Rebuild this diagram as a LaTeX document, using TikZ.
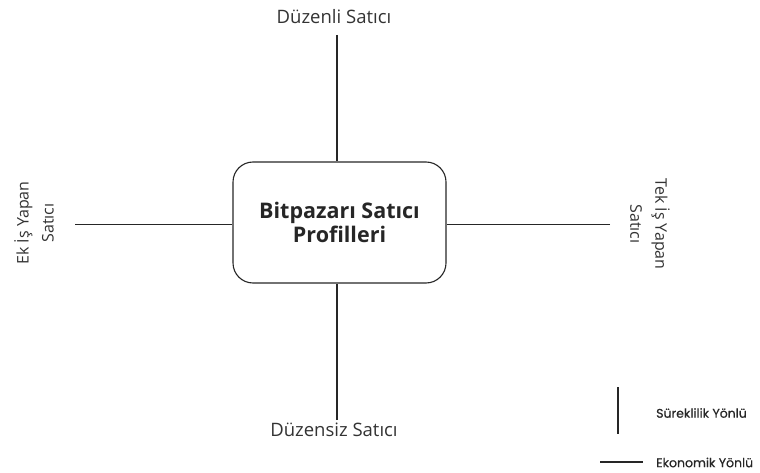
\documentclass[tikz,border=0pt]{standalone}
\usepackage{fontspec}
\setmainfont{Open Sans}
\newfontfamily\legendfont[FakeBold=0.6]{Poppins}
\begin{document}
\begin{tikzpicture}[x=1pt,y=-1pt,
  ln/.style={line width=1.1pt,black!85},
  lbl/.style={font=\fontsize{18.5}{25}\selectfont,text=black!80,align=center,inner sep=0pt},
  leg/.style={font=\legendfont\fontsize{12.5}{14}\selectfont,text=black!85,inner sep=0pt,anchor=west}]
\useasboundingbox (0,0) rectangle (760,473);
\node[draw,ln,rounded corners=20pt,minimum width=213pt,minimum height=121pt,
  font=\bfseries\fontsize{21.5}{24.5}\selectfont,align=center] (c) at (339.5,222.5) {Bitpazarı Satıcı\\Profilleri};
\node[lbl] (t) at (334,17) {Düzenli Satıcı};
\node[lbl] (b) at (334,430) {Düzensiz Satıcı};
\node[lbl,rotate=90,font=\fontsize{16}{25}\selectfont] (l) at (34,223) {Ek İş Yapan\\Satıcı};
\node[lbl,rotate=-90,font=\fontsize{16}{25}\selectfont] (r) at (650,224) {Tek İş Yapan\\Satıcı};
\coordinate (tl) at (337,35);
\coordinate (bl) at (337,420);
\coordinate (ll) at (75,224.5);
\coordinate (rl) at (610,224.5);
\draw[ln] (tl) -- (c.north -| tl);
\draw[ln] (bl) -- (c.south -| bl);
\draw[ln] (ll) -- (c.west |- ll);
\draw[ln] (rl) -- (c.east |- rl);
% legend
\coordinate (s1) at (618,387);
\coordinate (s2) at (618,434);
\draw[ln] (s1) -- (s2);
\node[leg] (st) at (656,413) {Süreklilik Yönlü};
\coordinate (e1) at (600,462);
\coordinate (e2) at (643,462);
\draw[ln] (e1) -- (e2);
\node[leg] (et) at (656,462.5) {Ekonomik Yönlü};
\end{tikzpicture}
\end{document}
